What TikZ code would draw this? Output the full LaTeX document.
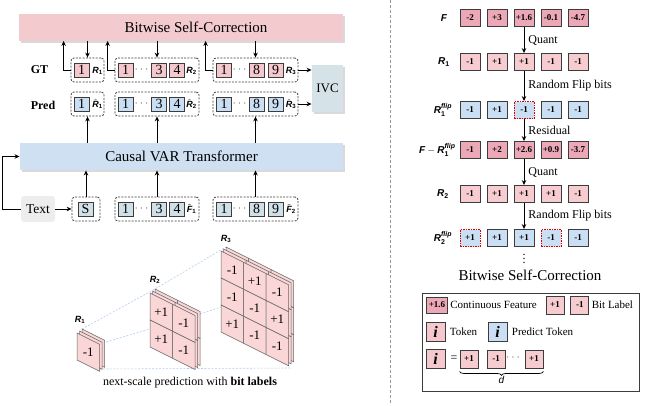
\documentclass[tikz,border=0pt]{standalone}
\usepackage{fontspec}
\usepackage{amsmath}
\setmainfont{Liberation Serif}
\newfontfamily\lblfont{Liberation Sans}
\usetikzlibrary{positioning,shadows,arrows.meta,decorations.pathreplacing}

\definecolor{barpink}{RGB}{243,203,206}
\definecolor{barblue}{RGB}{207,224,242}
\definecolor{ivcblue}{RGB}{213,226,232}
\definecolor{tokpink}{RGB}{245,200,205}
\definecolor{tokblue}{RGB}{202,223,243}
\definecolor{inblue}{RGB}{208,224,232}
\definecolor{featpink}{RGB}{236,168,182}
\definecolor{bitpink}{RGB}{246,204,208}
\definecolor{cellpink}{RGB}{250,214,214}
\definecolor{projblue}{RGB}{180,205,235}
\definecolor{edge}{RGB}{60,60,60}

\newcommand{\lbf}{\lblfont\bfseries\itshape}
\newcommand{\lbs}{\lblfont\bfseries}
\newcommand{\rlab}[2]{$\text{\lbf #1}_{\text{\lbs #2}}$}
\newcommand{\rhat}[2]{$\hat{\text{\lbf #1}}_{\text{\lbs #2}}$}
\newcommand{\rtil}[2]{$\tilde{\text{\lbf #1}}_{\text{\lbs #2}}$}
\newcommand{\rflip}[1]{$\text{\lbf R}_{\text{\lbs #1}}^{\text{\lbf flip}}$}

% sheared stack of bit maps: x, y (top left), size, entries row/col/value
\newcommand{\bitgrid}[4]{%
  \foreach \k in {2,1,0}
    \foreach \row in {1,...,#3}
      \foreach \col in {1,...,#3}
        \draw[cellface] ({#1+2.5*\k+(\col-1)*22.5},{#2-2*\k+(\row-1)*27+(\col-1)*11.25})
          -- ++(22.5,11.25) -- ++(0,27) -- ++(-22.5,-11.25) -- cycle;
  \foreach \row/\col/\val in {#4}
    \node[celltxt] at ({#1+(\col-1)*22.5+11.25},{#2+(\row-1)*27+(\col-1)*11.25+19}) {\val};
}

\tikzset{
  bar/.style={minimum height=27pt, inner sep=0pt, font=\fontsize{15}{18}\selectfont,
    drop shadow={shadow xshift=2pt,shadow yshift=-2pt,opacity=.3}},
  grp/.style={draw=edge, dash pattern=on 2pt off 1.3pt, rounded corners=3pt,
    line width=.8pt, minimum height=24pt},
  tok/.style={draw=edge, line width=.9pt, minimum width=15pt, minimum height=14pt,
    inner sep=0pt, font=\fontsize{14}{14}\selectfont},
  gtok/.style={tok, fill=tokpink},
  ptok/.style={tok, fill=tokblue},
  itok/.style={tok, fill=inblue},
  dots/.style={text=black!60, inner sep=0pt, font=\fontsize{12}{12}\selectfont},
  rl/.style={inner sep=0pt, font=\fontsize{9}{10}\selectfont},
  sq/.style={draw=edge, line width=.9pt, minimum width=20pt, minimum height=17pt,
    inner sep=0pt, font=\fontsize{9}{9}\selectfont\bfseries},
  featsq/.style={sq, fill=featpink},
  bitsq/.style={sq, fill=bitpink, minimum width=18pt, minimum height=18pt},
  flipsq/.style={sq, fill=tokblue},
  flipsqx/.style={sq, fill=tokblue, draw=red!85!black, dash pattern=on 1.5pt off 1pt},
  rowlab/.style={inner sep=0pt, font=\fontsize{10}{12}\selectfont},
  oplab/.style={right, inner sep=4pt, font=\fontsize{12}{14}\selectfont},
  legtxt/.style={inner sep=1pt, font=\fontsize{11}{13}\selectfont},
  isq/.style={draw=edge, line width=.9pt, minimum width=19pt, minimum height=19pt,
    inner sep=0pt, font=\fontsize{16}{16}\selectfont\bfseries\itshape},
  cellface/.style={fill=cellpink, draw=black!60, line width=.5pt},
  celltxt/.style={inner sep=0pt, font=\fontsize{13}{13}\selectfont},
  proj/.style={draw=projblue, line width=.6pt, dash pattern=on 2pt off 1.5pt},
}

\begin{document}
\begin{tikzpicture}[x=1pt,y=-1pt,>={Stealth[length=5pt,width=4.5pt]},line width=.9pt]
\useasboundingbox (0,0) rectangle (649,405);

% ---- left: bitwise self-correction pipeline
\node[bar, fill=barpink, minimum width=324pt] (bsc) at (181,27) {\hspace*{30pt}Bitwise Self-Correction};
\node[bar, fill=barblue, minimum width=323pt] (var) at (181.5,156.5) {Causal VAR Transformer};
\node[bar, fill=ivcblue, minimum width=31pt, minimum height=47pt,
  font=\fontsize{13}{13}\selectfont] (ivc) at (327.5,88.5) {IVC};
\node[fill=black!7, rounded corners=3pt, minimum width=34pt, minimum height=26pt,
  inner sep=0pt, font=\fontsize{13.5}{14}\selectfont] (txt) at (38,209) {Text};

\node[anchor=west, font=\fontsize{12}{12}\selectfont\bfseries] (gtl) at (27,70) {GT};
\node[anchor=west, font=\fontsize{12}{12}\selectfont\bfseries] (pdl) at (27,105) {Pred};

\node[grp, minimum width=33pt] (gt1) at (87.5,70) {};
\node[gtok] at (81.5,70) {1};
\node[grp, minimum width=33pt] (pd1) at (87.5,104) {};
\node[ptok] at (81.5,104) {1};
\node[grp, minimum width=28pt] (in1) at (86,209) {};
\node[itok] at (85.5,209) {S};

\foreach \y/\st/\nm in {70/gtok/gt,104/ptok/pd,209/itok/in} {
  \node[grp, minimum width=84pt] (\nm2) at (157,\y) {};
  \node[\st] at (125.5,\y) {1};
  \node[dots] at (142.5,\y) {$\cdots$};
  \node[\st] at (159,\y) {3};
  \node[\st] at (177,\y) {4};
  \node[grp, minimum width=85pt] (\nm3) at (255.5,\y) {};
  \node[\st] at (224,\y) {1};
  \node[dots] at (240.5,\y) {$\cdots$};
  \node[\st] at (256.5,\y) {8};
  \node[\st] at (275.5,\y) {9};
}

\node[rl] at (97.5,71) {\rlab{R}{1}};
\node[rl] at (191.5,71) {\rlab{R}{2}};
\node[rl] at (291,71) {\rlab{R}{3}};
\node[rl] at (97.5,104) {\rhat{R}{1}};
\node[rl] at (191.5,104) {\rhat{R}{2}};
\node[rl] at (291,104) {\rhat{R}{3}};
\node[rl] at (191.5,209) {\rtil{F}{1}};
\node[rl] at (291,209) {\rtil{F}{2}};

\foreach \i in {1,2,3} {
  \draw[->] (bsc.south -| gt\i.north) -- (gt\i.north);
  \draw[->] (gt\i.west) -- ++(-7,0) coordinate (up\i) -- (up\i |- bsc.south);
  \draw[->] (var.north -| pd\i.south) -- (pd\i.south);
  \draw[->] (in\i.north) -- (in\i.north |- var.south);
}
\draw[->] (gt3.east) -- (gt3.east -| ivc.west);
\draw[->] (pd3.east) -- (pd3.east -| ivc.west);
\draw[->] (txt) -- (in1);
\draw[->] (txt.west) -- ++(-18,0) |- (var.west);

% ---- left: next-scale bit maps
\coordinate (r1tl) at (82,329);
\coordinate (r2tl) at (155,289);
\coordinate (r3tl) at (226,247);
\coordinate (r1tr) at (99.5,344);
\coordinate (r2tr) at (195,315.5);
\coordinate (r3tr) at (288.5,285);
\coordinate (r1br) at (99.5,369);
\coordinate (r3br) at (291,368);
\draw[proj] (r1tl) -- (r2tl) -- (r3tl);
\draw[proj] (r1tr) -- (r2tr) -- (r3tr);
\draw[proj] (r1br) -- (r3br);

\bitgrid{77}{333}{1}{1/1/-1}
\bitgrid{150}{293}{2}{1/1/+1,1/2/-1,2/1/+1,2/2/-1}
\bitgrid{221}{251}{3}{1/1/-1,1/2/+1,1/3/-1,2/1/-1,2/2/-1,2/3/+1,3/1/+1,3/2/-1,3/3/-1}

\node[rl] at (80,320) {\rlab{R}{1}};
\node[rl] at (155,280) {\rlab{R}{2}};
\node[rl] at (226,239) {\rlab{R}{3}};

\node[font=\fontsize{12}{14}\selectfont] (cap) at (190,383)
  {next-scale prediction with \textbf{bit labels}};

% ---- divider
\draw[black!40, line width=.6pt, dash pattern=on 3pt off 2pt] (390,0) -- (390,405);

% ---- right: residual quantization with random flips
\node[rowlab] (lf) at (444,18) {\lbf F};
\node[rowlab] (lra) at (444,62) {\rlab{R}{1}};
\node[rowlab] (lrb) at (443,110) {\rflip{1}};
\node[rowlab, anchor=east] (lrs) at (456,150)
  {$\text{\lbf F}-\text{\lbf R}_{\text{\lbs 1}}^{\text{\lbf flip}}$};
\node[rowlab] (lrc) at (443,194) {\rlab{R}{2}};
\node[rowlab] (lrd) at (443,238) {\rflip{2}};

\foreach \val [count=\i] in {-2,+3,+1.6,-0.1,-4.7}
  \node[featsq] (f\i) at ({443+27*\i},18) {\val};
\foreach \val [count=\i] in {-1,+1,+1,-1,-1}
  \node[sq, fill=bitpink] (ra\i) at ({443+27*\i},62) {\val};
\foreach \val/\st [count=\i] in {-1/flipsq,+1/flipsq,-1/flipsqx,-1/flipsq,-1/flipsq}
  \node[\st] (rb\i) at ({443+27*\i},110) {\val};
\foreach \val [count=\i] in {-1,+2,+2.6,+0.9,-3.7}
  \node[featsq] (rs\i) at ({443+27*\i},150) {\val};
\foreach \val [count=\i] in {-1,+1,+1,+1,-1}
  \node[sq, fill=bitpink] (rc\i) at ({443+27*\i},194) {\val};
\foreach \val/\st [count=\i] in {+1/flipsqx,+1/flipsq,+1/flipsq,-1/flipsqx,-1/flipsq}
  \node[\st] (rd\i) at ({443+27*\i},238) {\val};

\draw[->] (f3) -- (ra3) node[midway, oplab] {Quant};
\draw[->] (ra3) -- (rb3) node[midway, oplab] {Random Flip bits};
\draw[->] (rb3) -- (rs3) node[midway, oplab] {Residual};
\draw[->] (rs3) -- (rc3) node[midway, oplab] {Quant};
\draw[->] (rc3) -- (rd3) node[midway, oplab] {Random Flip bits};
\node[font=\fontsize{12}{12}\selectfont] (vd) at (524,256) {$\vdots$};

\node[font=\fontsize{15}{18}\selectfont] (rtitle) at (530,275) {Bitwise Self-Correction};

% ---- legend
\node[draw=edge, line width=.9pt, minimum width=217pt, minimum height=98pt] (leg) at (530.5,342) {};
\node[featsq, minimum width=21pt, minimum height=16pt] (lg1) at (437,305) {+1.6};
\node[legtxt, right=1pt of lg1] (lg1t) {Continuous Feature};
\node[bitsq] (lg2) at (555,305) {+1};
\node[bitsq, right=6pt of lg2] (lg3) {-1};
\node[legtxt, right=1pt of lg3] (lg3t) {Bit Label};
\node[isq, fill=tokpink] (li1) at (435.5,332) {i};
\node[legtxt, right=3pt of li1] (li1t) {Token};
\node[isq, fill=tokblue] (li2) at (497.5,332) {i};
\node[legtxt, right=3pt of li2] (li2t) {Predict Token};
\node[isq, fill=tokpink] (li3) at (435.5,359) {i};
\node[font=\fontsize{12}{12}\selectfont, inner sep=0pt] (leq) at (454,359) {=};
\node[bitsq] (le1) at (469,359) {+1};
\node[bitsq] (le2) at (496,359) {-1};
\node[dots] (led) at (514,358) {$\cdots$};
\node[bitsq] (le3) at (534,359) {+1};
\draw[line width=.7pt, decorate, decoration={brace,mirror,amplitude=4pt}]
  ([yshift=-3pt]le1.south west) -- ([yshift=-3pt]le3.south east)
  node[midway, below=4pt, inner sep=0pt, font=\fontsize{10}{10}\selectfont] {\lblfont\itshape d};
\end{tikzpicture}
\end{document}
